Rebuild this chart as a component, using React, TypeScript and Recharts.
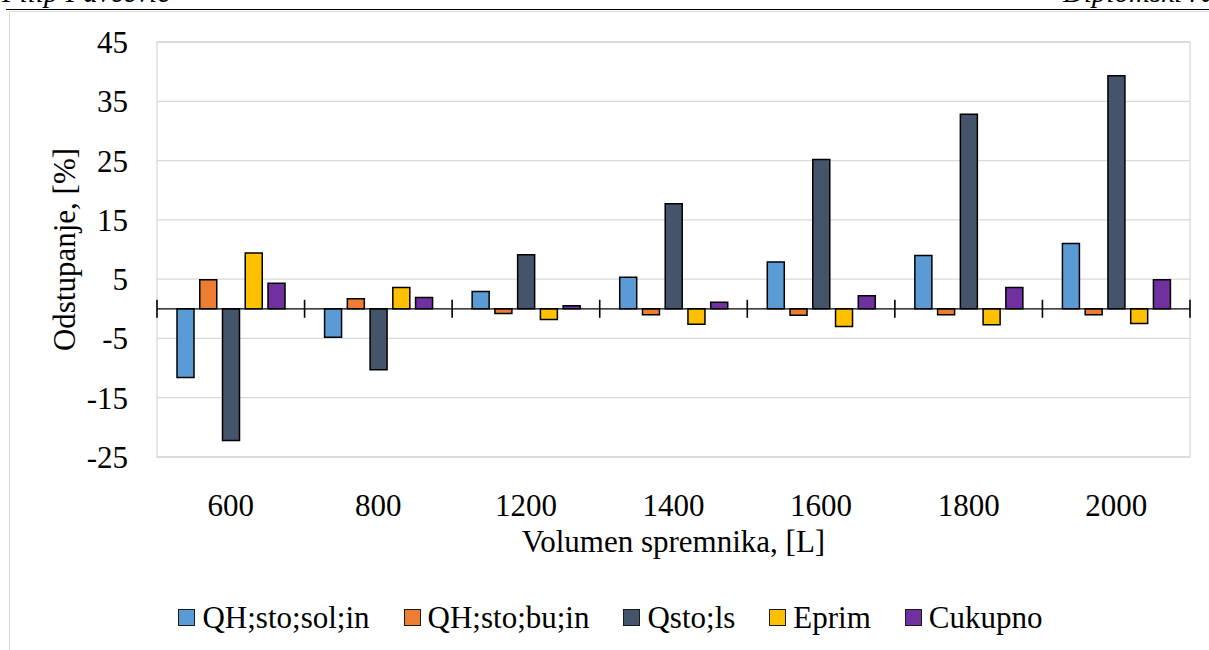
import { BarChart, Bar, XAxis, YAxis, CartesianGrid, Legend, ReferenceLine, ReferenceArea } from 'recharts';

// Volumen spremnika [L]
const categories = ['600', '800', '1200', '1400', '1600', '1800', '2000'];

// Odstupanje [%] per series
const qhStoSolIn = [-11.6, -4.8, 2.9, 5.3, 7.9, 9.0, 11.0];
const qhStoBuIn = [4.9, 1.7, -0.8, -1.0, -1.1, -1.0, -1.0];
const qStoLs = [-22.2, -10.3, 9.1, 17.7, 25.2, 32.8, 39.3];
const ePrim = [9.4, 3.6, -1.8, -2.6, -3.0, -2.7, -2.5];
const cUkupno = [4.3, 1.9, 0.5, 1.1, 2.2, 3.6, 4.9];

const seriesKeys = ['sol', 'bu', 'ls', 'eprim', 'ukupno'];
const seriesNames = ['QH;sto;sol;in', 'QH;sto;bu;in', 'Qsto;ls', 'Eprim', 'Cukupno'];
const seriesColors = ['#5b9bd5', '#ed7d31', '#44546a', '#ffc000', '#7030a0'];

const yTicks = [-25, -15, -5, 5, 15, 25, 35, 45];

const chartData = categories.map((volumen, i) => ({
  volumen,
  sol: qhStoSolIn[i],
  bu: qhStoBuIn[i],
  ls: qStoLs[i],
  eprim: ePrim[i],
  ukupno: cUkupno[i],
}));

const FONT = "'Liberation Serif', 'Times New Roman', serif";
const FONT_SIZE = 31;

// zero line with category boundary ticks (Excel style)
const ZeroAxis = (props: any) => {
  const { x1, x2, y1 } = props;
  const step = (x2 - x1) / categories.length;
  const marks = [...categories.map((_, i) => i), categories.length];
  return (
    <g>
      <line x1={x1} x2={x2} y1={y1} y2={y1} stroke="#000" strokeWidth={1.3} />
      {marks.map((i) => (
        <line key={i} x1={x1 + i * step} x2={x1 + i * step} y1={y1 - 9} y2={y1 + 9} stroke="#000" strokeWidth={1.6} />
      ))}
    </g>
  );
};

const YTitle = ({ viewBox }: any) => {
  const cx = viewBox.x + 75;
  const cy = viewBox.y + viewBox.height / 2;
  return (
    <text x={cx} y={cy} transform={`rotate(-90, ${cx}, ${cy})`} textAnchor="middle" fontSize={FONT_SIZE} fontFamily={FONT} fill="#000">
      Odstupanje, [%]
    </text>
  );
};

const XTitle = ({ viewBox }: any) => {
  const cx = viewBox.x + viewBox.width / 2;
  return (
    <text x={cx} y={viewBox.y + 95} textAnchor="middle" fontSize={FONT_SIZE} fontFamily={FONT} fill="#000">
      Volumen spremnika, [L]
    </text>
  );
};

const LegendContent = () => (
  <div style={{ display: 'flex', justifyContent: 'center', alignItems: 'center', height: 40, paddingLeft: 31, gap: 34, fontFamily: FONT, fontSize: FONT_SIZE, lineHeight: 1, color: '#000' }}>
    {seriesNames.map((name, i) => (
      <div key={name} style={{ display: 'flex', alignItems: 'center' }}>
        <span style={{ width: 15, height: 15, background: seriesColors[i], border: '1px solid #1a1a1a', marginRight: 7, flex: 'none' }} />
        <span style={{ whiteSpace: 'nowrap' }}>{name}</span>
      </div>
    ))}
  </div>
);

export default function App() {
  return (
    <div style={{ position: 'absolute', left: 0, top: 0, width: 1209, height: 650, overflow: 'hidden', background: '#fff', fontFamily: FONT }}>
      {/* page header */}
      <div style={{ position: 'absolute', left: 2, top: -23, fontSize: 29, lineHeight: '30px', fontStyle: 'italic', whiteSpace: 'nowrap' }}>Filip Pavčević</div>
      <div style={{ position: 'absolute', left: 1063, top: -23, fontSize: 29, lineHeight: '30px', fontStyle: 'italic', whiteSpace: 'nowrap' }}>Diplomski rad</div>
      <div style={{ position: 'absolute', left: 6, top: 9, width: 1210, borderTop: '1.6px solid #000' }} />
      {/* chart frame */}
      <div style={{ position: 'absolute', left: 9, top: 11, width: 1300, height: 700, borderLeft: '1.5px solid #d9d9d9', borderTop: '1.5px solid #d9d9d9' }} />

      <div style={{ position: 'absolute', left: 0, top: 0 }}>
        <BarChart
          width={1209}
          height={650}
          data={chartData}
          margin={{ top: 42, right: 19, left: 0, bottom: 13 }}
          barSize={17}
          barGap={5.75}
        >
          <CartesianGrid horizontal vertical={false} stroke="#d9d9d9" strokeWidth={1.3} />
          <ReferenceArea y1={-25} y2={45} fill="none" stroke="#d9d9d9" strokeWidth={1.3} />
          <XAxis
            dataKey="volumen"
            axisLine={false}
            tickLine={false}
            tickSize={0}
            tickMargin={37}
            height={140}
            tick={{ fill: '#000', fontSize: FONT_SIZE, fontFamily: FONT }}
            label={<XTitle />}
          />
          <YAxis
            domain={[-25, 45]}
            ticks={yTicks}
            width={157}
            axisLine={false}
            tickLine={false}
            tickSize={0}
            tickMargin={29}
            tick={{ fill: '#000', fontSize: FONT_SIZE, fontFamily: FONT }}
            label={<YTitle />}
          />
          {seriesKeys.map((key, i) => (
            <Bar
              key={key}
              dataKey={key}
              name={seriesNames[i]}
              fill={seriesColors[i]}
              stroke="#000"
              strokeWidth={1.5}
              isAnimationActive={false}
            />
          ))}
          <ReferenceLine y={0} shape={ZeroAxis} />
          <Legend verticalAlign="bottom" content={<LegendContent />} />
        </BarChart>
      </div>
    </div>
  );
}
